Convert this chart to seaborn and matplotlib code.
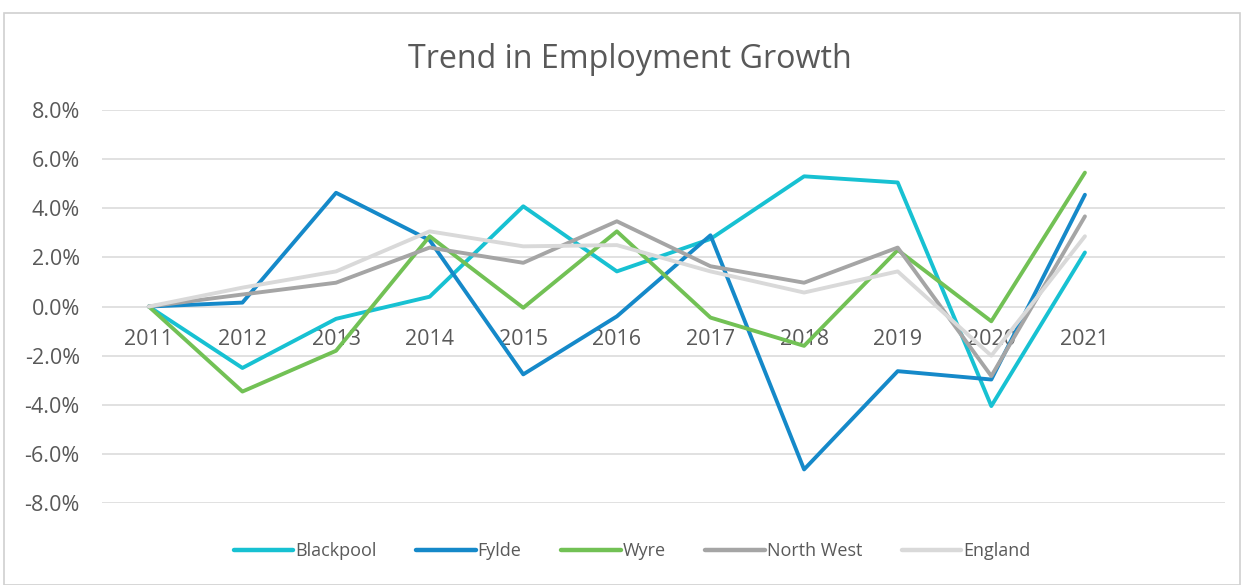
import matplotlib
matplotlib.use("Agg")
import matplotlib.pyplot as plt
from matplotlib.patches import Rectangle
from matplotlib.ticker import FuncFormatter, MultipleLocator
import pandas as pd
import seaborn as sns

years = ["2011", "2012", "2013", "2014", "2015", "2016",
         "2017", "2018", "2019", "2020", "2021"]

# annual employment growth, %
blackpool = [0.0, -2.5, -0.5, 0.4, 4.08, 1.43, 2.75, 5.3, 5.05, -4.05, 2.2]
fylde = [0.0, 0.16, 4.63, 2.7, -2.76, -0.4, 2.9, -6.63, -2.63, -2.97, 4.55]
wyre = [0.0, -3.46, -1.8, 2.86, -0.05, 3.06, -0.45, -1.6, 2.3, -0.6, 5.45]
north_west = [0.0, 0.49, 0.97, 2.4, 1.78, 3.47, 1.64, 0.97, 2.4, -2.83, 3.67]
england = [0.0, 0.77, 1.43, 3.06, 2.45, 2.5, 1.43, 0.57, 1.43, -2.0, 2.86]

series_names = ["Blackpool", "Fylde", "Wyre", "North West", "England"]
series_values = [blackpool, fylde, wyre, north_west, england]
series_colors = ["#17C1D2", "#1589C9", "#72C155", "#A5A5A5", "#D9D9D9"]

rows = []
for name, vals in zip(series_names, series_values):
    for i, v in enumerate(vals):
        rows.append({"pos": i, "Year": years[i], "Series": name, "Growth": v})
df = pd.DataFrame(rows)

sns.set_theme(style="white")
plt.rcParams["font.family"] = ["Open Sans", "DejaVu Sans"]

fig = plt.figure(figsize=(12.44, 5.85), dpi=100)
ax = fig.add_axes([0.082, 0.140, 0.903, 0.672])

# light frame around the chart area
fig.patches.append(Rectangle((0.003, 0.0), 0.994, 0.978, transform=fig.transFigure,
                             fill=False, edgecolor="#D0D0D0", linewidth=1.2))

sns.lineplot(data=df, x="pos", y="Growth", hue="Series", hue_order=series_names,
             palette=dict(zip(series_names, series_colors)), linewidth=2.8,
             ax=ax, legend=False, sort=False)

ax.set_ylim(-8, 8)
ax.set_xlim(-0.5, 11.5)
ax.yaxis.set_major_locator(MultipleLocator(2))
ax.yaxis.set_major_formatter(FuncFormatter(lambda v, _: f"{v:.1f}%"))
ax.set_xticks(range(len(years)))
ax.set_xticklabels(years)
ax.set_xlabel("")
ax.set_ylabel("")

ax.grid(axis="y", color="#D9D9D9", linewidth=1.1)
ax.grid(axis="x", visible=False)
ax.set_axisbelow(True)
for side in ["top", "right", "left", "bottom"]:
    ax.spines[side].set_visible(False)
ax.spines["bottom"].set_position(("data", 0))

ax.tick_params(axis="x", length=0, pad=16, labelsize=15.5, labelcolor="#595959")
ax.tick_params(axis="y", length=0, pad=16, labelsize=15.5, labelcolor="#595959")

ax.set_title("Trend in Employment Growth", fontsize=23.2, color="#595959",
             pad=30, x=0.47)

handles = [plt.Line2D([], [], color=c, linewidth=3.2) for c in series_colors]
fig.legend(handles, series_names, loc="center", bbox_to_anchor=(0.508, 0.058),
           ncol=5, frameon=False, handlelength=3.3,
           handletextpad=0.1, columnspacing=2.2, labelcolor="#595959",
           prop={"family": ["Liberation Sans Narrow", "Open Sans"], "size": 13})

fig.savefig("out.png", dpi=100, facecolor="white")
